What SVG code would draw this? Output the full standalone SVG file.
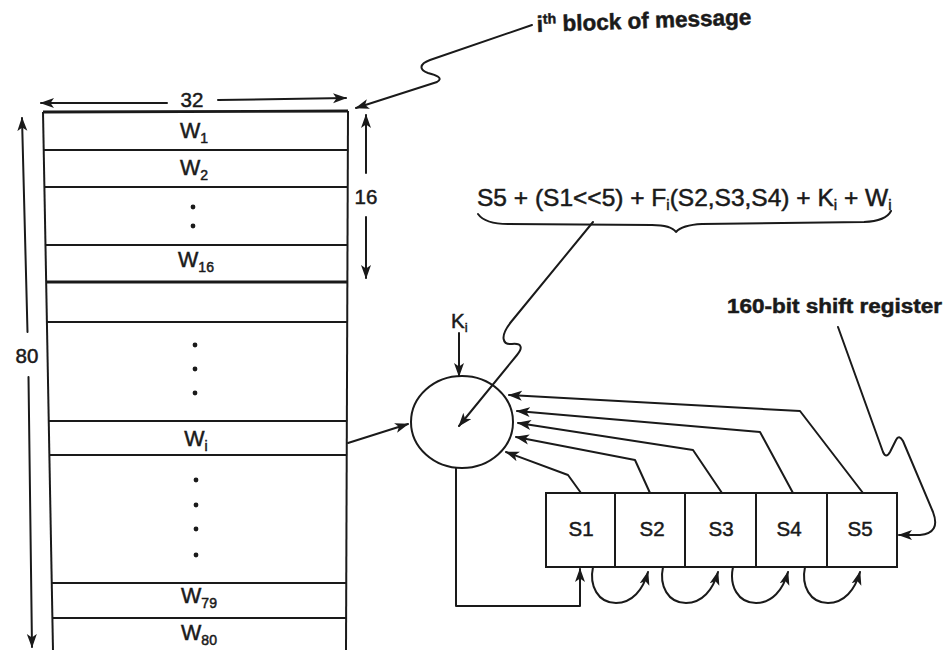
<svg xmlns="http://www.w3.org/2000/svg" width="946" height="650" viewBox="0 0 946 650">
<defs>
<marker id="ah" markerWidth="14" markerHeight="11" refX="13" refY="5.5" orient="auto" markerUnits="userSpaceOnUse">
<path d="M0,0.5 L14,5.5 L0,10.5 L3.5,5.5 z" fill="#1a1a1a"/>
</marker>
<style>
text{font-family:"Liberation Sans",Arial,Helvetica,sans-serif;fill:#1a1a1a;stroke:#1a1a1a;stroke-width:0.5}
.ln{fill:none;stroke:#1a1a1a;stroke-width:2;stroke-linejoin:round;stroke-linecap:round}
.bx{fill:none;stroke:#1a1a1a;stroke-width:2}
.thk{fill:none;stroke:#1a1a1a;stroke-width:2.8}
.w{font-size:21.5px}
.sub{font-size:14px}
.s{font-size:20.5px}
.dot{fill:#1a1a1a}
</style>
</defs>
<rect width="946" height="650" fill="#ffffff"/>

<g id="message-block">
<polyline class="bx" points="43,112 53,650"/>
<polyline class="bx" points="348,111 346,650"/>
<line class="thk" x1="43" y1="112" x2="348" y2="111"/>
<line class="bx" x1="43.7" y1="150" x2="348" y2="150"/>
<line class="bx" x1="44.4" y1="187" x2="348" y2="187"/>
<line class="bx" x1="45.5" y1="245" x2="348" y2="245"/>
<line class="thk" x1="46.2" y1="282" x2="348" y2="282"/>
<line class="bx" x1="46.9" y1="322" x2="347" y2="322"/>
<line class="bx" x1="48.7" y1="421" x2="347" y2="421"/>
<line class="bx" x1="49.4" y1="455" x2="347" y2="455"/>
<line class="bx" x1="51.8" y1="583" x2="346" y2="583"/>
<line class="bx" x1="52.4" y1="618" x2="346" y2="618"/>
<text class="w" x="194" y="138" text-anchor="middle">W<tspan class="sub" dy="5">1</tspan></text>
<text class="w" x="194" y="175" text-anchor="middle">W<tspan class="sub" dy="5">2</tspan></text>
<circle class="dot" cx="193" cy="207" r="2.4"/>
<circle class="dot" cx="193" cy="226" r="2.4"/>
<text class="w" x="196" y="267" text-anchor="middle">W<tspan class="sub" dy="5">16</tspan></text>
<circle class="dot" cx="195" cy="345" r="2.4"/>
<circle class="dot" cx="195" cy="369" r="2.4"/>
<circle class="dot" cx="195" cy="393" r="2.4"/>
<text class="w" x="196" y="446" text-anchor="middle">W<tspan class="sub" dy="5">i</tspan></text>
<circle class="dot" cx="196" cy="480" r="2.4"/>
<circle class="dot" cx="196" cy="505" r="2.4"/>
<circle class="dot" cx="196" cy="529" r="2.4"/>
<circle class="dot" cx="196" cy="555" r="2.4"/>
<text class="w" x="199" y="603" text-anchor="middle">W<tspan class="sub" dy="5">79</tspan></text>
<text class="w" x="199" y="640" text-anchor="middle">W<tspan class="sub" dy="5">80</tspan></text>
</g>

<g id="dimensions">
<text x="192" y="107" font-size="20.5" text-anchor="middle">32</text>
<text x="366" y="204" font-size="20.5" text-anchor="middle">16</text>
<text x="27" y="363" font-size="20.5" text-anchor="middle">80</text>
</g>

<g id="adder">
<ellipse class="bx" cx="462" cy="422" rx="51" ry="46"/>
</g>
<g id="ki-label">
<text x="451" y="328" font-size="20.5">K<tspan font-size="13" dy="4">i</tspan></text>
</g>

<g id="formula">
<text x="477" y="206" font-size="24.5">S5 + (S1&lt;&lt;5) + F<tspan font-size="15" dy="4">i</tspan><tspan dy="-4">(S2,S3,S4) + K</tspan><tspan font-size="15" dy="4">i</tspan><tspan dy="-4"> + W</tspan><tspan font-size="15" dy="4">i</tspan></text>
<path class="ln" d="M478,214 Q485,224 508,224 L652,225 Q671,225 676,232 Q682,225 702,224 L864,222 Q886,221 891,211"/>
</g>

<g id="block-label">
<text x="537" y="32" font-size="22.5" font-weight="bold" stroke-width="0" transform="rotate(-2 537 32)">i<tspan font-size="14" dy="-8">th</tspan><tspan dy="8"> block of message</tspan></text>
</g>

<g id="register-label">
<text x="727" y="313" font-size="20" font-weight="bold" stroke-width="0" textLength="215" lengthAdjust="spacingAndGlyphs">160-bit shift register</text>
</g>

<g id="s1"><rect class="bx" x="546" y="493" width="69" height="74"/><text class="s" x="581" y="536" text-anchor="middle">S1</text></g>
<g id="s2"><rect class="bx" x="615" y="493" width="70" height="74"/><text class="s" x="652" y="536" text-anchor="middle">S2</text></g>
<g id="s3"><rect class="bx" x="685" y="493" width="71" height="74"/><text class="s" x="721" y="536" text-anchor="middle">S3</text></g>
<g id="s4"><rect class="bx" x="756" y="493" width="71" height="74"/><text class="s" x="789" y="536" text-anchor="middle">S4</text></g>
<g id="s5"><rect class="bx" x="827" y="493" width="70" height="74"/><text class="s" x="860" y="536" text-anchor="middle">S5</text></g>

<g id="connectors">
<path class="ln" d="M167,103 L41,103" marker-end="url(#ah)"/>
<path class="ln" d="M218,100 L346,98" marker-end="url(#ah)"/>
<path class="ln" d="M366,173 L366,115" marker-end="url(#ah)"/>
<path class="ln" d="M366,217 L366,278" marker-end="url(#ah)"/>
<path class="ln" d="M27.5,332 L22,118" marker-end="url(#ah)"/>
<path class="ln" d="M28.5,377 L32,647" marker-end="url(#ah)"/>
<path class="ln" d="M532,25 L430,60 C419,64 419,70 428,73 C436,75 444,78 437,82 L356,108" marker-end="url(#ah)"/>
<path class="ln" d="M593,222 L511,322 C499,337 503,345 512,344 C522,343 523,348 517,355 L459,426" marker-end="url(#ah)"/>
<path class="ln" d="M459,333 L459,376" marker-end="url(#ah)"/>
<path class="ln" d="M348,443 L408,424" marker-end="url(#ah)"/>
<path class="ln" d="M581,493 L568,475 L506,452" marker-end="url(#ah)"/>
<path class="ln" d="M650,493 L635,460 L516,437" marker-end="url(#ah)"/>
<path class="ln" d="M722,493 L693,450 L518,423" marker-end="url(#ah)"/>
<path class="ln" d="M793,493 L760,432 L517,411" marker-end="url(#ah)"/>
<path class="ln" d="M863,493 L800,411 L509,395" marker-end="url(#ah)"/>
<path class="ln" d="M456,468 L456,606 L580,606 L580,569" marker-end="url(#ah)"/>
<path class="ln" d="M593,567 C589,586 598,603 616,603 C632,603 643,590 648,572" marker-end="url(#ah)"/>
<path class="ln" d="M663,567 C659,586 668,603 686,603 C702,603 713,590 718,572" marker-end="url(#ah)"/>
<path class="ln" d="M733,567 C729,586 738,603 756,603 C772,603 783,590 788,572" marker-end="url(#ah)"/>
<path class="ln" d="M805,567 C801,586 810,603 828,603 C844,603 855,590 860,572" marker-end="url(#ah)"/>
<path class="ln" d="M838,327 L883,452 Q886,459 890,452 L896,440 Q899,434 903,441 L933,512 Q941,533 920,535 L899,535" marker-end="url(#ah)"/>
</g>
</svg>
